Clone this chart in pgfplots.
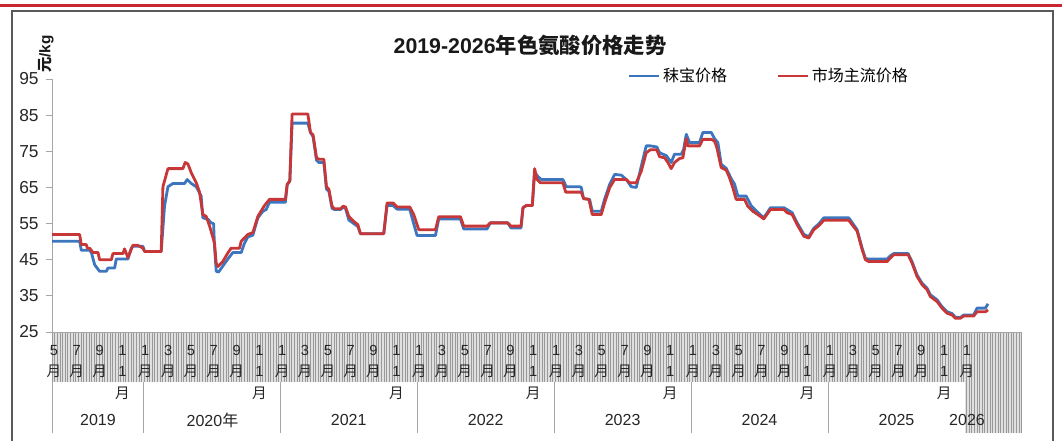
\documentclass[border=0pt]{standalone}
\usepackage{fontspec}
\setmainfont{Liberation Sans}
\newfontfamily\cjk{Noto Sans CJK SC}
\usepackage{pgfplots}
\pgfplotsset{compat=1.18}
\newcommand{\yue}{{\cjk 月}}
\definecolor{lblue}{RGB}{60,118,190}
\definecolor{lred}{RGB}{200,55,55}
\definecolor{topred}{RGB}{200,40,50}

\begin{document}
\begin{tikzpicture}[x=0.75pt,y=-0.75pt]
\path[use as bounding box] (0,0) rectangle (1062,441);
\fill[white] (0,0) rectangle (1062,441);
\draw[topred, line width=2pt] (0,5.3) -- (1062,5.3);
\draw[black!65, line width=0.9pt] (12,441) -- (12,11) -- (1053,11) -- (1053,441);
% hatched category band
\fill[black!12] (52,332) rectangle (1022,382);
\fill[black!12] (965,382) rectangle (1022,433);
\foreach \i in {0,...,368} \draw[black!40, line width=0.5pt] ({52+\i*2.635},332) -- ++(0,50);
\foreach \i in {347,...,368} \draw[black!40, line width=0.5pt] ({52+\i*2.635},382) -- ++(0,51);
\foreach \m in {0,8,20,32,44,56,68} \draw[black!35, line width=0.6pt] ({52+\m*11.412},382) -- ++(0,51);

\begin{axis}[
  at={(39pt,-249pt)}, anchor=south west,
  scale only axis, width=727.5pt, height=189.75pt,
  xmin=0, xmax=85, ymin=25, ymax=95,
  enlargelimits=false,
  axis x line*=bottom, axis y line*=left,
  axis line style={black!35, line width=0.6pt},
  ytick={25,35,...,95},
  /pgf/number format/assume math mode=true,
  yticklabel style={font=\fontsize{13}{15}\selectfont, text=black!85, xshift=-2pt},
  ytick style={black!35, line width=0.6pt},
  tick align=outside, major tick length=4.5pt,
  xtick={0,2,...,80},
  x tick style={draw=none},
  xticklabels={{5\\\yue},{7\\\yue},{9\\\yue},{1\\1\\\yue},
    {1\\\yue},{3\\\yue},{5\\\yue},{7\\\yue},{9\\\yue},{1\\1\\\yue},
    {1\\\yue},{3\\\yue},{5\\\yue},{7\\\yue},{9\\\yue},{1\\1\\\yue},
    {1\\\yue},{3\\\yue},{5\\\yue},{7\\\yue},{9\\\yue},{1\\1\\\yue},
    {1\\\yue},{3\\\yue},{5\\\yue},{7\\\yue},{9\\\yue},{1\\1\\\yue},
    {1\\\yue},{3\\\yue},{5\\\yue},{7\\\yue},{9\\\yue},{1\\1\\\yue},
    {1\\\yue},{3\\\yue},{5\\\yue},{7\\\yue},{9\\\yue},{1\\1\\\yue},
    {1\\\yue}},
  xticklabel style={align=center, font=\fontsize{11}{16}\selectfont, text=black!85, anchor=north, xshift=1.5pt, yshift=-2pt},
  legend columns=2,
  legend cell align=left,
  legend image code/.code={\draw[#1] (0pt,0pt) -- (22.5pt,0pt);},
  legend style={at={(axis description cs:0.589,1.012)}, anchor=west, draw=none, fill=none,
    font=\fontsize{12}{14}\selectfont,
    /tikz/every even column/.append style={column sep=35pt}},
  line join=round,
]
\addplot[lblue, line width=2.1pt] coordinates {
(0,50.1) (2.42,50.1) (2.57,47.6) (3.3,47.6) (3.45,47) (3.74,43.6) (4.17,41.8) (4.76,41.8) (4.9,42.7) (5.49,42.7) (5.63,45.2) (6.65,45.2) (6.95,48.2) (7.09,48.7) (7.97,48.7) (8.11,47.3) (9.57,47.3) (9.86,59.8) (10.16,65.2) (10.6,66.1) (11.62,66.1) (11.85,67.2) (12.2,66.1) (12.64,65.2) (13.07,62.6) (13.22,56.6) (13.66,56.2) (13.95,55.2) (14.16,55) (14.24,48.7) (14.39,41.8) (14.6,41.6) (15.41,45.2) (15.85,47) (16.58,47) (16.87,49.6) (17.16,51.3) (17.6,51.8) (18.04,56.6) (18.48,58.4) (18.77,58.9) (19.06,60.9) (20.45,60.9) (20.61,65.8) (20.84,66.8) (21.04,82.8) (22.42,82.8) (22.65,80.2) (22.88,79) (23.18,72.5) (23.38,71.9) (23.82,71.9) (24.05,64.5) (24.26,64) (24.54,59.2) (24.75,58.9) (25.28,58.9) (25.51,59.5) (25.72,59.2) (26.01,56) (26.44,55) (26.8,54.2) (27.03,52.2) (29.07,52.2) (29.36,60) (29.89,60) (30.24,59) (31.35,59) (31.55,56.6) (31.99,51.7) (33.6,51.7) (33.89,56.3) (35.79,56.3) (36.08,53.5) (38.12,53.5) (38.41,55.2) (39.93,55.2) (40.22,53.8) (41.1,53.8) (41.27,59.4) (41.57,60) (42.09,60) (42.29,69.2) (42.58,68) (42.88,67.2) (44.77,67.2) (45.07,65.2) (46.23,65.2) (46.38,65) (46.58,61.9) (47.11,61.7) (47.34,58.4) (48.13,58.4) (48.42,61.7) (48.86,65.8) (49.3,68.6) (49.89,68.4) (50.32,67.2) (50.76,65.2) (51.2,65) (51.64,70.9) (52.07,76.5) (52.43,76.5) (53,76.2) (53.24,74.6) (53.83,73.8) (54.26,71.9) (54.55,74.2) (55.14,74.2) (55.34,75.4) (55.58,79.7) (55.87,77.4) (56.74,77.4) (57.03,80.2) (57.77,80.2) (58.06,78.5) (58.35,77.4) (58.64,71.4) (59.08,70.3) (59.52,67.4) (59.81,65.9) (60.1,62.6) (60.83,62.6) (61.27,59.9) (61.85,58.1) (62.37,56.6) (62.96,59.4) (64.13,59.4) (64.56,58.6) (64.86,58) (65.3,55.2) (65.88,52) (66.31,51.4) (66.75,53.7) (67.19,54.9) (67.63,56.6) (69.82,56.6) (70.11,55.3) (70.55,53.3) (70.99,48.2) (71.28,45.3) (71.57,45.2) (73.18,45.2) (73.47,46.1) (73.76,46.7) (75.02,46.7) (75.37,44.4) (75.8,40.8) (76.24,38.5) (76.68,37.1) (76.97,35.3) (77.56,33.9) (77.99,32) (78.43,30.6) (78.87,30.1) (79.16,29.1) (79.6,29) (79.89,29.7) (80.76,29.7) (81.06,31.6) (81.79,31.6) (82.02,32.8)
};
\addlegendentry{\cjk 秣宝价格}
\addplot[lred, line width=2.1pt] coordinates {
(0,52) (2.42,52) (2.57,49.2) (3.0,49.2) (3.1,48.2) (3.3,48.2) (3.59,47) (4.03,47) (4.17,45) (5.2,45) (5.34,46.7) (6.22,46.7) (6.36,48) (6.65,45.6) (7.09,49) (7.5,49) (7.97,48.2) (8.11,47.3) (9.57,47.3) (9.72,65.2) (10.16,70.2) (11.47,70.2) (11.67,71.9) (11.91,71.5) (12.2,69.1) (12.64,66.3) (12.93,63.7) (13.22,57.5) (13.51,57) (13.81,54.3) (14.24,49.6) (14.39,44) (14.54,43.1) (14.97,44.5) (15.41,46.9) (15.7,48.2) (16.43,48.2) (16.58,50.1) (17.16,52) (17.6,52.5) (18.04,57) (18.62,60) (19.06,61.7) (20.45,61.7) (20.61,65.8) (20.84,66.8) (21.04,85.3) (22.42,85.3) (22.65,80.2) (22.88,79.5) (23.18,73.2) (23.38,72.8) (23.82,72.8) (24.05,65.2) (24.26,64.5) (24.54,59.8) (24.75,59.1) (25.28,59.1) (25.51,59.8) (25.72,59.6) (26.01,57) (26.44,55.6) (26.8,54.7) (27.03,52.2) (29.07,52.2) (29.36,60.7) (29.89,60.7) (30.24,59.6) (31.35,59.6) (31.7,57.5) (32.14,53.3) (33.6,53.3) (33.89,56.9) (35.79,56.9) (36.08,54.3) (38.12,54.3) (38.41,55.2) (39.93,55.2) (40.22,54.3) (41.1,54.3) (41.27,59.4) (41.57,60) (42.09,60) (42.29,70.2) (42.5,67.2) (42.79,66.3) (44.77,66.3) (45.01,63.7) (46.38,63.7) (46.58,61.9) (47.05,61.7) (47.34,57.5) (48.13,57.5) (48.42,60.7) (48.86,64.9) (49.3,67.2) (50.32,67.2) (50.61,66.3) (51.2,66.3) (51.64,69.5) (52.07,74.6) (52.43,75.4) (53,75.4) (53.24,73.5) (53.68,73.2) (53.97,71.9) (54.26,70.2) (54.55,71.9) (54.99,73) (55.28,73.2) (55.58,78.5) (55.72,76.5) (56.74,76.5) (57.03,78.3) (57.77,78.3) (58.06,77.8) (58.26,76) (58.64,70.5) (59.08,69.8) (59.37,67.7) (59.66,64.9) (59.95,61.7) (60.68,61.7) (60.97,59.8) (61.41,58.4) (61.85,57.5) (62.37,56.3) (62.96,58.9) (64.13,58.9) (64.42,58) (64.86,57.5) (65.3,54.7) (65.88,51.5) (66.31,51) (66.75,53.3) (67.19,54.4) (67.63,55.9) (69.82,55.9) (70.11,54.7) (70.55,52.9) (70.99,47.8) (71.28,45) (71.57,44.5) (73.18,44.5) (73.47,45.5) (73.76,46.4) (75.02,46.4) (75.37,44) (75.8,40.4) (76.24,38.1) (76.68,36.7) (76.97,34.8) (77.56,33.4) (77.99,31.6) (78.43,30.2) (78.87,29.7) (79.16,28.8) (79.6,28.8) (79.89,29.4) (80.76,29.4) (81.06,30.6) (81.79,30.6) (82.02,31.1)
};
\addlegendentry{\cjk 市场主流价格}
\end{axis}

\node[font=\fontsize{16}{18}\selectfont\bfseries, text=black!90] at (530,45) {2019-2026{\cjk 年色氨酸价格走势}};
\node[rotate=90, font=\fontsize{11.5}{13}\selectfont\bfseries, text=black!90] at (46,54) {{\cjk 元}/kg};
\begin{scope}[every node/.style={font=\fontsize{12}{14}\selectfont, text=black!85}]
\node at (98,420) {2019};
\node at (212.5,420) {2020{\cjk 年}};
\node at (348.7,420) {2021};
\node at (485.7,420) {2022};
\node at (622.6,420) {2023};
\node at (759.5,420) {2024};
\node at (896.5,420) {2025};
\node at (967,420) {2026};
\end{scope}
\end{tikzpicture}
\end{document}
